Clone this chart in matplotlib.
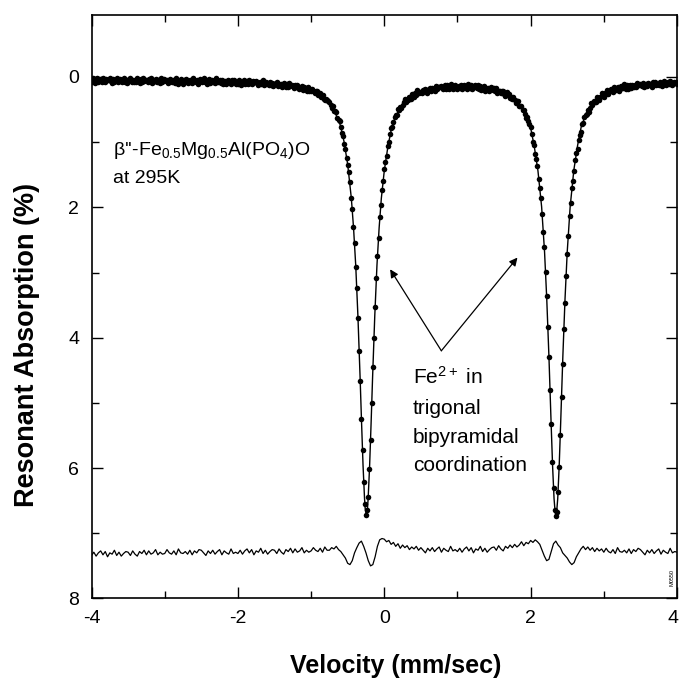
import numpy as np
import matplotlib
matplotlib.use("Agg")
import matplotlib.pyplot as plt
from matplotlib.transforms import ScaledTranslation

plt.rcParams['font.family'] = ['Liberation Sans', 'DejaVu Sans']
plt.rcParams['mathtext.fontset'] = 'custom'
plt.rcParams['mathtext.rm'] = 'Liberation Sans'
plt.rcParams['mathtext.it'] = 'Liberation Sans:italic'
plt.rcParams['mathtext.bf'] = 'Liberation Sans:bold'
plt.rcParams['axes.unicode_minus'] = False

# measured spectrum (% absorption), channels evenly spaced from -4 to 4 mm/s
absorb = [
    0.07, 0.02, 0.06, 0.09, 0.04, 0.01, 0.08, 0.05, 0.03, 0.07, 0.02, 0.06, 0.08, 0.03, 0.05, 0.04,
    0.02, 0.06, 0.09, 0.03, 0.07, 0.04, 0.01, 0.08, 0.06, 0.03, 0.05, 0.08, 0.02, 0.07, 0.04, 0.09,
    0.06, 0.03, 0.01, 0.08, 0.05, 0.07, 0.04, 0.08, 0.02, 0.06, 0.09, 0.03, 0.07, 0.01, 0.06, 0.05,
    0.05, 0.08, 0.03, 0.06, 0.02, 0.09, 0.07, 0.04, 0.03, 0.08, 0.04, 0.05, 0.09, 0.02, 0.07, 0.03,
    0.05, 0.06, 0.04, 0.09, 0.07, 0.03, 0.08, 0.04, 0.06, 0.09, 0.02, 0.05, 0.10, 0.07, 0.03, 0.08,
    0.10, 0.05, 0.08, 0.03, 0.09, 0.06, 0.04, 0.07, 0.09, 0.02, 0.05, 0.08, 0.04, 0.10, 0.07, 0.03,
    0.06, 0.07, 0.02, 0.08, 0.04, 0.10, 0.07, 0.03, 0.09, 0.05, 0.08, 0.06, 0.09, 0.02, 0.04, 0.07,
    0.05, 0.09, 0.04, 0.11, 0.07, 0.06, 0.10, 0.05, 0.06, 0.09, 0.11, 0.04, 0.08, 0.05, 0.10, 0.07,
    0.10, 0.05, 0.09, 0.12, 0.07, 0.04, 0.11, 0.08, 0.06, 0.10, 0.05, 0.09, 0.11, 0.06, 0.08, 0.07,
    0.06, 0.09, 0.13, 0.07, 0.11, 0.08, 0.05, 0.12, 0.10, 0.08, 0.10, 0.13, 0.07, 0.12, 0.09, 0.14,
    0.11, 0.09, 0.07, 0.14, 0.11, 0.13, 0.10, 0.15, 0.09, 0.13, 0.16, 0.10, 0.15, 0.09, 0.14, 0.13,
    0.14, 0.17, 0.12, 0.15, 0.12, 0.18, 0.17, 0.15, 0.14, 0.20, 0.16, 0.17, 0.21, 0.15, 0.21, 0.18,
    0.22, 0.18, 0.22, 0.25, 0.22, 0.21, 0.27, 0.26, 0.25, 0.31, 0.28, 0.33, 0.35, 0.33, 0.36, 0.37,
    0.38, 0.43, 0.47, 0.45, 0.52, 0.52, 0.54, 0.63, 0.66, 0.68, 0.76, 0.86, 0.90, 1.03, 1.11, 1.25,
    1.35, 1.46, 1.61, 1.85, 2.03, 2.30, 2.55, 2.91, 3.23, 3.70, 4.21, 4.67, 5.25, 5.72, 6.22, 6.55,
    6.72, 6.65, 6.45, 6.02, 5.57, 5.00, 4.45, 4.00, 3.53, 3.09, 2.75, 2.47, 2.15, 1.96, 1.74, 1.60,
    1.41, 1.30, 1.21, 1.06, 1.00, 0.88, 0.78, 0.77, 0.69, 0.61, 0.59, 0.58, 0.49, 0.51, 0.46, 0.47,
    0.43, 0.38, 0.34, 0.39, 0.35, 0.36, 0.31, 0.34, 0.26, 0.29, 0.31, 0.24, 0.27, 0.20, 0.25, 0.23,
    0.23, 0.25, 0.20, 0.22, 0.18, 0.24, 0.22, 0.18, 0.17, 0.21, 0.17, 0.18, 0.22, 0.14, 0.19, 0.15,
    0.16, 0.16, 0.14, 0.19, 0.17, 0.13, 0.18, 0.13, 0.15, 0.18, 0.11, 0.14, 0.19, 0.16, 0.12, 0.17,
    0.19, 0.14, 0.17, 0.12, 0.18, 0.15, 0.13, 0.16, 0.18, 0.11, 0.14, 0.17, 0.13, 0.19, 0.16, 0.12,
    0.16, 0.17, 0.12, 0.18, 0.14, 0.20, 0.17, 0.14, 0.21, 0.17, 0.19, 0.17, 0.21, 0.15, 0.17, 0.20,
    0.17, 0.22, 0.17, 0.25, 0.21, 0.21, 0.25, 0.21, 0.22, 0.26, 0.29, 0.23, 0.28, 0.26, 0.32, 0.31,
    0.34, 0.31, 0.36, 0.40, 0.37, 0.37, 0.44, 0.44, 0.45, 0.51, 0.50, 0.57, 0.63, 0.62, 0.68, 0.72,
    0.76, 0.88, 0.99, 1.04, 1.18, 1.26, 1.36, 1.56, 1.70, 1.86, 2.10, 2.38, 2.61, 2.99, 3.36, 3.83,
    4.30, 4.80, 5.33, 5.90, 6.31, 6.64, 6.73, 6.68, 6.36, 5.98, 5.49, 4.91, 4.41, 3.86, 3.46, 3.05,
    2.71, 2.44, 2.13, 1.93, 1.70, 1.59, 1.44, 1.28, 1.16, 1.11, 0.97, 0.89, 0.84, 0.72, 0.71, 0.62,
    0.59, 0.56, 0.51, 0.53, 0.48, 0.40, 0.43, 0.37, 0.38, 0.39, 0.30, 0.32, 0.35, 0.31, 0.25, 0.29,
    0.30, 0.24, 0.26, 0.20, 0.26, 0.22, 0.19, 0.22, 0.23, 0.16, 0.18, 0.20, 0.16, 0.21, 0.18, 0.14,
    0.16, 0.17, 0.11, 0.18, 0.13, 0.19, 0.16, 0.12, 0.17, 0.13, 0.16, 0.13, 0.16, 0.09, 0.10, 0.13,
    0.10, 0.14, 0.09, 0.16, 0.12, 0.11, 0.14, 0.09, 0.10, 0.13, 0.15, 0.08, 0.12, 0.08, 0.13, 0.10,
    0.12, 0.07, 0.11, 0.14, 0.09, 0.06, 0.12, 0.09, 0.07, 0.11, 0.06, 0.10, 0.12, 0.07, 0.09, 0.08,
    0.10,
]
vel = np.linspace(-4, 4, len(absorb))

# fitted doublet
fit_v = [-4.0, -3.0, -2.0, -1.5, -1.2, -1.0, -0.9, -0.8, -0.7, -0.6, -0.55, -0.5, -0.45,
         -0.42, -0.39, -0.36, -0.33, -0.31, -0.29, -0.27, -0.26, -0.245, -0.23, -0.22,
         -0.20, -0.18, -0.16, -0.13, -0.10, -0.07, -0.04, 0.0, 0.05, 0.1, 0.15, 0.2, 0.3,
         0.4, 0.5, 0.7, 1.0, 1.3, 1.5, 1.7, 1.8, 1.9, 2.0, 2.05, 2.1, 2.15, 2.19, 2.22,
         2.25, 2.28, 2.30, 2.32, 2.335, 2.345, 2.355, 2.37, 2.39, 2.41, 2.44, 2.47, 2.50,
         2.54, 2.59, 2.64, 2.69, 2.75, 2.85, 3.0, 3.2, 3.5, 3.75, 4.0]
fit_a = [0.05, 0.055, 0.074, 0.103, 0.145, 0.203, 0.25, 0.34, 0.47, 0.74, 0.99, 1.34, 1.86,
         2.31, 2.89, 3.67, 4.62, 5.31, 5.96, 6.46, 6.63, 6.72, 6.63, 6.46,
         5.96, 5.31, 4.62, 3.67, 2.89, 2.31, 1.86, 1.44, 1.065, 0.78, 0.62, 0.505, 0.36,
         0.275, 0.223, 0.172, 0.147, 0.158, 0.192, 0.274, 0.36, 0.505, 0.78, 1.068, 1.44, 1.99, 2.68, 3.40,
         4.29, 5.32, 5.97, 6.47, 6.68, 6.73, 6.68, 6.47, 5.97, 5.32, 4.29, 3.40, 2.68,
         1.99, 1.43, 1.06, 0.77, 0.585, 0.395, 0.25, 0.17, 0.117, 0.094, 0.083]

# residual trace (offset, drawn near 7.3)
resid = [
    7.34, 7.29, 7.35, 7.30, 7.27, 7.33, 7.28, 7.36, 7.30, 7.32, 7.26, 7.34, 7.29, 7.35, 7.31, 7.28,
    7.29, 7.34, 7.27, 7.32, 7.35, 7.28, 7.31, 7.26, 7.33, 7.27, 7.32, 7.30, 7.25, 7.33, 7.29, 7.32,
    7.31, 7.25, 7.30, 7.32, 7.27, 7.33, 7.24, 7.30, 7.31, 7.28, 7.32, 7.26, 7.33, 7.27, 7.30, 7.25,
    7.26, 7.30, 7.34, 7.27, 7.31, 7.26, 7.32, 7.28, 7.25, 7.33, 7.27, 7.30, 7.32, 7.24, 7.31, 7.29,
    7.31, 7.26, 7.32, 7.27, 7.24, 7.30, 7.25, 7.33, 7.27, 7.29, 7.23, 7.31, 7.26, 7.32, 7.28, 7.25,
    7.26, 7.31, 7.24, 7.29, 7.32, 7.25, 7.28, 7.23, 7.30, 7.24, 7.29, 7.27, 7.22, 7.30, 7.26, 7.29,
    7.27, 7.22, 7.26, 7.28, 7.23, 7.29, 7.21, 7.26, 7.26, 7.22, 7.24, 7.20, 7.25, 7.28, 7.33, 7.38,
    7.46, 7.48, 7.42, 7.30, 7.22, 7.15, 7.12, 7.20, 7.30, 7.42, 7.50, 7.48, 7.36, 7.20, 7.10, 7.08,
    7.09, 7.13, 7.11, 7.17, 7.14, 7.20, 7.16, 7.23, 7.18, 7.22, 7.19, 7.25, 7.21, 7.24, 7.20, 7.26,
    7.22, 7.26, 7.30, 7.23, 7.27, 7.22, 7.28, 7.24, 7.21, 7.29, 7.23, 7.26, 7.28, 7.20, 7.27, 7.25,
    7.28, 7.23, 7.29, 7.24, 7.21, 7.27, 7.22, 7.30, 7.24, 7.26, 7.20, 7.28, 7.23, 7.29, 7.25, 7.22,
    7.21, 7.26, 7.19, 7.24, 7.27, 7.20, 7.23, 7.18, 7.22, 7.17, 7.21, 7.18, 7.13, 7.19, 7.14, 7.16,
    7.11, 7.14, 7.10, 7.13, 7.17, 7.26, 7.35, 7.42, 7.40, 7.28, 7.16, 7.12, 7.18, 7.22, 7.30, 7.34,
    7.38, 7.44, 7.48, 7.45, 7.36, 7.30, 7.24, 7.20, 7.25, 7.21, 7.26, 7.22, 7.28, 7.23, 7.27, 7.24,
    7.29, 7.23, 7.28, 7.30, 7.25, 7.31, 7.22, 7.28, 7.29, 7.26, 7.30, 7.24, 7.31, 7.25, 7.28, 7.23,
    7.25, 7.29, 7.33, 7.26, 7.30, 7.25, 7.31, 7.27, 7.24, 7.32, 7.26, 7.29, 7.31, 7.23, 7.30, 7.28,
    7.29,
]
resid_v = np.linspace(-4, 4, len(resid))

fig = plt.figure(figsize=(6.8, 6.85), dpi=100)
ax = fig.add_axes([0.1346, 0.1263, 0.861, 0.8517])

ax.plot(vel, absorb, 'o', ms=4.0, color='black', mec='black', mew=0)
ax.plot(fit_v, fit_a, '-', color='black', lw=1.0)
ax.plot(resid_v, resid, '-', color='black', lw=0.9)

ax.set_xlim(-4, 4)
ax.set_ylim(8, -0.95)
ax.set_xticks([-4, -2, 0, 2, 4])
ax.set_xticks([-3, -1, 1, 3], minor=True)
ax.set_yticks([0, 2, 4, 6, 8])
ax.set_yticks([1, 3, 5, 7], minor=True)
ax.tick_params(which='both', direction='in', top=True, right=True, width=1.0)
ax.tick_params(which='major', length=8, labelsize=14)
ax.tick_params(which='minor', length=5)
ax.tick_params(axis='x', pad=8)
ax.tick_params(axis='y', pad=9)
for s in ax.spines.values():
    s.set_linewidth(1.2)

# keep the last x tick label inside the picture
last = ax.get_xticklabels()[-1]
last.set_transform(last.get_transform() + ScaledTranslation(-3 / 72, 0, fig.dpi_scale_trans))

ax.set_xlabel('Velocity (mm/sec)', fontsize=18, fontweight='bold')
ax.xaxis.set_label_coords(0.52, -0.095)
ax.set_ylabel('Resonant Absorption (%)', fontsize=19.5, fontweight='bold')
ax.yaxis.set_label_coords(-0.088, 0.434)

# annotations
ax.text(-3.70, 1.20, "\u03b2''-Fe$_{0.5}$Mg$_{0.5}$Al(PO$_4$)O", fontsize=14, va='baseline')
ax.text(-3.70, 1.63, 'at 295K', fontsize=14, va='baseline')

lines = ['Fe$^{2+}$ in', 'trigonal', 'bipyramidal', 'coordination']
for txt, yy in zip(lines, [4.71, 5.17, 5.61, 6.04]):
    ax.text(0.39, yy, txt, fontsize=15, va='baseline')

arrow = dict(arrowstyle='-|>', color='black', lw=0.9, mutation_scale=12, shrinkA=0, shrinkB=0)
ax.annotate('', xy=(0.08, 2.95), xytext=(0.78, 4.2), arrowprops=arrow)
ax.annotate('', xy=(1.82, 2.77), xytext=(0.78, 4.2), arrowprops=arrow)

ax.text(3.93, 7.68, 'M0550', fontsize=4, rotation=90, ha='center', va='center')

fig.savefig('out.png', dpi=100)
